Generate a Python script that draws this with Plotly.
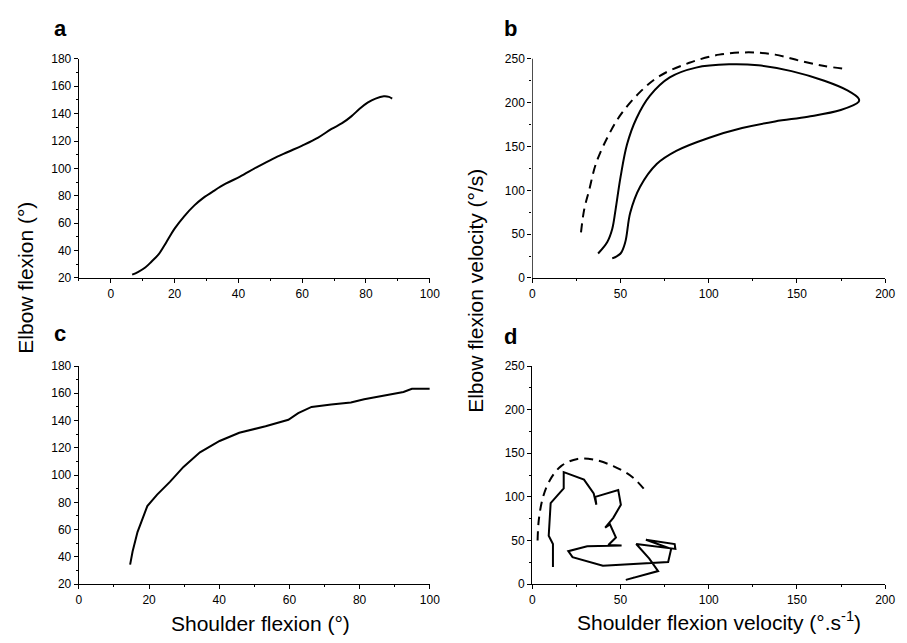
import plotly.graph_objects as go

# ---- Panel a: elbow vs shoulder flexion (deg) ----
a_shoulder = [6.7, 8.5, 10.8, 12.8, 14.9, 17.5, 20.0, 23.0, 26.2, 29.0, 32.3, 36.0, 40.5,
              45.5, 50.8, 55.5, 60.0, 65.0, 69.2, 72.5, 75.4, 78.0, 80.5, 83.0, 85.6, 87.2, 88.2]
a_elbow = [22.4, 24.3, 27.6, 32.0, 37.0, 46.5, 56.0, 65.0, 73.0, 78.5, 83.6, 88.8, 94.0,
           100.5, 107.0, 112.0, 116.7, 122.5, 128.8, 133.0, 138.0, 143.5, 148.0, 151.0, 152.6, 152.2, 151.0]

# ---- Panel b: elbow vs shoulder flexion velocity (deg/s) ----
b_dash_x = [27.6, 29.4, 32.2, 36.0, 42.5, 50.0, 61.0, 72.3, 89.0, 105.9, 122.6, 137.6, 152.5, 165.5, 176.7]
b_dash_y = [52, 78, 100, 130, 160, 186, 212, 230.6, 245.5, 254.8, 257.4, 254.8, 247.4, 241.8, 238.8]

b_solid_x = [37.3, 42.5, 45.3, 47.2, 50.0, 53.7, 59.0, 66.7, 77.9, 92.8, 111.5, 128.0, 146.9,
             165.5, 178.6, 185.0, 185.0, 174.8, 156.2, 137.6, 118.9, 100.3, 81.6, 70.5,
             61.1, 55.5, 52.7, 50.0, 45.3]
b_solid_y = [27.9, 41.0, 55.8, 78.0, 115.0, 152.5, 182.0, 208.0, 228.8, 240.0, 243.7, 242.6, 236.0,
             225.0, 214.0, 204.6, 201.0, 191.6, 184.0, 178.6, 171.0, 160.0, 145.0, 130.0,
             104.0, 74.4, 41.0, 27.9, 22.3]

# ---- Panel c: elbow vs shoulder flexion (deg) ----
c_shoulder = [14.6, 15.3, 16.7, 19.5, 22.3, 26.0, 29.8, 34.5, 40.1, 45.7, 53.2, 59.7, 62.5,
              66.3, 71.9, 77.5, 81.3, 86.0, 92.5, 94.9, 100.0]
c_elbow = [34.3, 43.9, 58.2, 77.3, 85.7, 95.2, 106.0, 116.7, 125.0, 131.0, 135.8, 140.6, 145.4,
           150.0, 151.8, 153.3, 155.6, 157.8, 160.9, 163.3, 163.3]

# ---- Panel d: elbow vs shoulder flexion velocity (deg/s) ----
d_dash_x = [3.0, 3.7, 6.1, 9.8, 16.3, 25.6, 34.8, 45.9, 57.0, 65.4]
d_dash_y = [50.0, 74.0, 100.0, 118.6, 135.3, 143.5, 142.7, 135.3, 122.3, 103.7]

d_solid_x = [11.7, 11.7, 9.3, 10.4, 14.4, 17.8, 17.8, 29.3, 34.8, 36.3, 35.7, 48.7, 50.2, 45.9,
             41.3, 44.0, 47.4, 43.1, 50.6, 31.1, 20.4, 22.8, 40.0, 77.0, 78.7, 64.4, 80.7,
             81.1, 58.9, 66.3, 71.3, 53.0, 57.5]
d_solid_y = [19.8, 46.0, 55.4, 92.8, 102.0, 109.7, 128.4, 119.8, 104.0, 91.0, 100.0, 107.8, 91.0, 76.0,
             64.7, 68.5, 53.5, 44.9, 44.2, 43.4, 37.8, 31.0, 21.0, 25.4, 40.4, 50.9, 46.0,
             40.4, 46.0, 29.2, 15.0, 4.9, 7.5]

# Axis tick settings
a_xticks = dict(range=[-10, 100], tick0=0, dtick=20, minor_dtick=10)
flex_yticks = dict(range=[20, 180], tick0=20, dtick=20, minor_dtick=10)
vel_xticks = dict(range=[0, 200], tick0=0, dtick=50, minor_dtick=25)
vel_yticks = dict(range=[0, 250], tick0=0, dtick=50, minor_dtick=25)
# panel b leaves headroom above 250 so the dashed curve is not cut off
vel_yticks_b = dict(range=[0, 262], tick0=0, dtick=50, minor_dtick=25)
c_xticks = dict(range=[0, 100], tick0=0, dtick=20, minor_dtick=10)

W, H = 907, 643
FONT = "Liberation Sans, Arial, sans-serif"


def px_x(p0, p1):
    return [p0 / W, p1 / W]


def px_y(top, bottom):
    return [1 - bottom / H, 1 - top / H]


def axis(spec, domain, anchor, line=True):
    return dict(
        domain=domain, anchor=anchor,
        range=spec["range"], tick0=spec["tick0"], dtick=spec["dtick"],
        showline=line, linecolor="black", linewidth=1.4,
        ticks="outside", ticklen=4, tickwidth=1, tickcolor="black",
        tickfont=dict(family=FONT, size=12, color="black"),
        showgrid=False, zeroline=False, fixedrange=True,
        minor=dict(dtick=spec["minor_dtick"], ticks="outside", ticklen=2,
                   tickcolor="black", tickwidth=1, showgrid=False),
    )


solid = dict(color="black", width=2)
dashed = dict(color="black", width=2, dash="9px,6px")

fig = go.Figure()
fig.add_trace(go.Scatter(x=a_shoulder, y=a_elbow, mode="lines", line=solid,
                         line_shape="spline", xaxis="x", yaxis="y"))
fig.add_trace(go.Scatter(x=b_dash_x, y=b_dash_y, mode="lines", line=dashed,
                         line_shape="spline", xaxis="x2", yaxis="y2"))
fig.add_trace(go.Scatter(x=b_solid_x, y=b_solid_y, mode="lines", line=solid,
                         line_shape="spline", xaxis="x2", yaxis="y2"))
fig.add_trace(go.Scatter(x=c_shoulder, y=c_elbow, mode="lines", line=solid,
                         xaxis="x3", yaxis="y3"))
fig.add_trace(go.Scatter(x=d_dash_x, y=d_dash_y, mode="lines", line=dashed,
                         line_shape="spline", xaxis="x4", yaxis="y4"))
fig.add_trace(go.Scatter(x=d_solid_x, y=d_solid_y, mode="lines", line=solid,
                         xaxis="x4", yaxis="y4"))

left_x = px_x(77, 433)
right_x = px_x(537, 895)
top_y = px_y(53, 277)
# 250 sits at 53 px, 0 at 277 px -> 0.896 px per unit
top_b = 277 - (vel_yticks_b["range"][1]) * (224 / 250)
top_y_b = px_y(top_b, 277)
bot_y = px_y(367, 590)

layout = dict(
    width=W, height=H,
    margin=dict(l=0, r=0, t=0, b=0),
    paper_bgcolor="white", plot_bgcolor="white",
    font=dict(family=FONT, color="black"),
    showlegend=False,
    xaxis=axis(a_xticks, left_x, "y"),
    yaxis=axis(flex_yticks, top_y, "x"),
    xaxis2=axis(vel_xticks, right_x, "y2"),
    yaxis2=axis(vel_yticks_b, top_y_b, "x2", line=False),
    xaxis3=axis(c_xticks, left_x, "y3"),
    yaxis3=axis(flex_yticks, bot_y, "x3"),
    xaxis4=axis(vel_xticks, right_x, "y4"),
    yaxis4=axis(vel_yticks, bot_y, "x4"),
)
fig.update_layout(**layout)

# panel b y-axis line stops at 250
fig.add_shape(type="line", xref="x2", yref="y2", x0=0, x1=0, y0=0, y1=250,
              line=dict(color="black", width=1.4))


def label(text, x, y, font, angle=0):
    fig.add_annotation(x=x / W, y=1 - y / H, xref="paper", yref="paper",
                       xanchor="center", yanchor="middle",
                       text=text, textangle=angle, showarrow=False, font=font)


# Panel letters
letter_font = dict(family=FONT, size=22, color="black")
for letter, x, y in [("a", 58, 22), ("b", 515, 22), ("c", 58, 334), ("d", 515, 337)]:
    label(f"<b>{letter}</b>", x, y, letter_font)

# Axis titles
title_font = dict(family=FONT, size=21, color="black")
label("Elbow flexion (°)", 23, 277, title_font, -90)
label("Elbow flexion velocity (°/s)", 480, 290, title_font, -90)
label("Shoulder flexion (°)", 261, 630, title_font)
label("Shoulder flexion velocity (°.s<sup>-1</sup>)", 726, 628, title_font)

fig.write_html("out.html")
